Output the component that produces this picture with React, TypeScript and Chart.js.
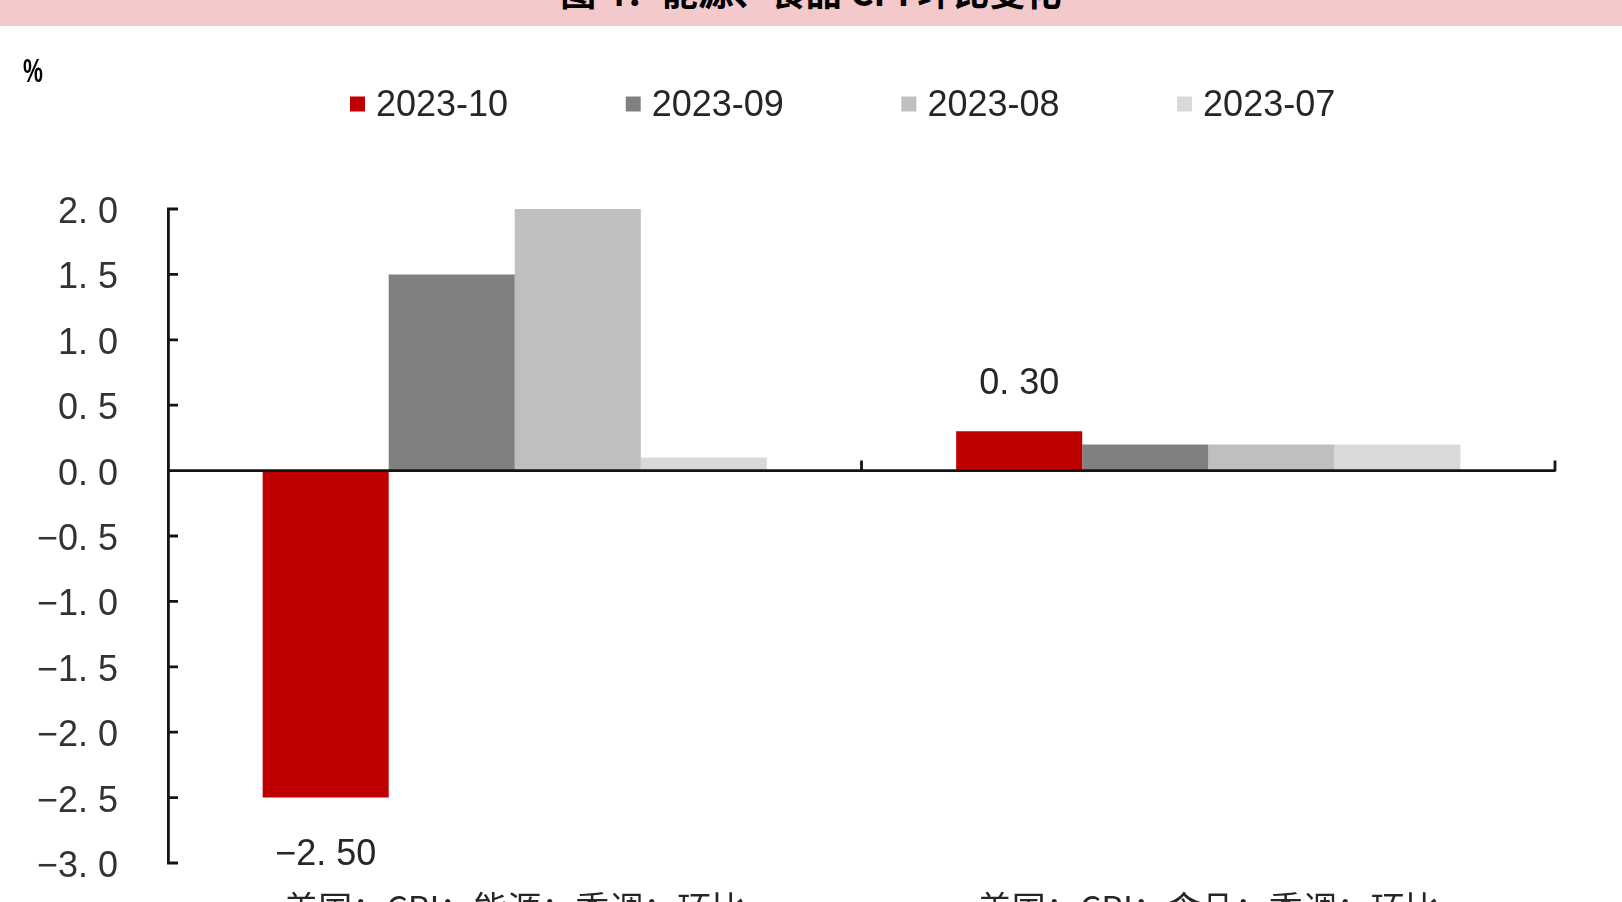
import React, { useEffect, useRef } from 'react';
import { Chart, registerables } from 'chart.js';

Chart.register(...registerables);

// ---- data ----
const categories = ['美国：CPI：能源：季调：环比', '美国：CPI：食品：季调：环比'];
const seriesNames = ['2023-10', '2023-09', '2023-08', '2023-07'];
const oct2023 = [-2.5, 0.3];
const sep2023 = [1.5, 0.2];
const aug2023 = [2.0, 0.2];
const jul2023 = [0.1, 0.2];
const seriesValues = [oct2023, sep2023, aug2023, jul2023];
const seriesColors = ['#C00000', '#808080', '#BFBFBF', '#D9D9D9'];
const yMin = -3.0;
const yMax = 2.0;
const yStep = 0.5;
const unitLabel = '%';
const titleText = '图 4：能源、食品 CPI 环比变化';

const LATIN = '"Liberation Sans", Arial, sans-serif';
const CJK = '"Noto Sans CJK SC", "Noto Sans", sans-serif';
const TEXT = '#262626';
const AXIS = '#141414';

const fmt = (v: number, d: number) =>
  v.toFixed(d).replace('.', '. ').replace('-', '\u2212');

const decorPlugin = {
  id: 'decor',
  afterDatasetsDraw(chart: any) {
    const { ctx, chartArea, scales } = chart;
    const xs = scales.x;
    const ys = scales.y;
    const y0 = ys.getPixelForValue(0);
    ctx.save();
    ctx.strokeStyle = AXIS;
    ctx.lineWidth = 2.8;
    ctx.beginPath();
    ctx.moveTo(chartArea.left, y0);
    ctx.lineTo(chartArea.right, y0);
    const n = chart.data.labels.length;
    for (let i = 1; i <= n; i++) {
      const bx = xs.left + (i * xs.width) / n;
      ctx.moveTo(bx, y0 + 1);
      ctx.lineTo(bx, y0 - 10);
    }
    ys.ticks.forEach((t: any) => {
      const py = ys.getPixelForValue(t.value);
      ctx.moveTo(chartArea.left - 1, py);
      ctx.lineTo(chartArea.left + 10, py);
    });
    ctx.stroke();

    // data labels for the first series
    const meta = chart.getDatasetMeta(0);
    const vals = chart.data.datasets[0].data;
    ctx.fillStyle = TEXT;
    ctx.font = `36px ${LATIN}`;
    ctx.textAlign = 'center';
    ctx.textBaseline = 'middle';
    meta.data.forEach((bar: any, i: number) => {
      const v = vals[i];
      const ty = v >= 0 ? bar.y - 47 : bar.y + 57;
      ctx.fillText(fmt(v, 2), bar.x, ty);
    });
    ctx.restore();
  },
  afterDraw(chart: any) {
    const { ctx } = chart;
    ctx.save();
    // legend
    const x0 = 350;
    const step = 275.7;
    const cy = 78;
    chart.data.datasets.forEach((ds: any, i: number) => {
      const lx = x0 + i * step;
      ctx.fillStyle = ds.backgroundColor;
      ctx.fillRect(lx, cy - 7.5, 15, 15);
      ctx.fillStyle = TEXT;
      ctx.font = `36px ${LATIN}`;
      ctx.textAlign = 'left';
      ctx.textBaseline = 'middle';
      ctx.fillText(ds.label, lx + 26, cy + 2);
    });
    // unit
    ctx.fillStyle = '#000';
    ctx.font = `900 36px ${LATIN}`;
    ctx.textAlign = 'center';
    ctx.textBaseline = 'middle';
    ctx.translate(33, 47);
    ctx.scale(0.62, 0.92);
    ctx.fillText(unitLabel, 0, 0);
    ctx.restore();
  },
};

export default function App() {
  const ref = useRef<HTMLCanvasElement>(null);

  useEffect(() => {
    if (!ref.current) return;
    const chart = new Chart(ref.current, {
      type: 'bar',
      data: {
        labels: categories,
        datasets: seriesNames.map((name, i) => ({
          label: name,
          data: seriesValues[i],
          backgroundColor: seriesColors[i],
          borderWidth: 0,
          barPercentage: 1.0,
          categoryPercentage: 0.727,
        })),
      },
      options: {
        responsive: false,
        animation: false,
        devicePixelRatio: 1,
        layout: { padding: { top: 183, right: 67, bottom: 3, left: 0 } },
        plugins: {
          legend: { display: false },
          tooltip: { enabled: false },
          title: { display: false },
        },
        scales: {
          x: {
            type: 'category',
            offset: true,
            grid: { display: false, drawTicks: false },
            border: { display: false },
            ticks: {
              autoSkip: false,
              maxRotation: 0,
              minRotation: 0,
              padding: 25,
              color: TEXT,
              font: { family: CJK, size: 34 },
            },
            afterFit: (s: any) => {
              s.height = 70;
            },
          },
          y: {
            min: yMin,
            max: yMax,
            grid: { display: false, drawTicks: false },
            border: { display: true, color: AXIS, width: 2.8 },
            ticks: {
              stepSize: yStep,
              padding: 50,
              labelOffset: 4,
              color: '#333333',
              font: { family: LATIN, size: 36 },
              callback: (v: any) => fmt(Number(v), 1),
            },
            afterFit: (s: any) => {
              s.width = 168;
            },
          },
        },
      },
      plugins: [decorPlugin],
    });
    return () => chart.destroy();
  }, []);

  return (
    <div
      style={{
        position: 'fixed',
        left: 0,
        top: 0,
        width: 1622,
        height: 902,
        overflow: 'hidden',
        background: '#ffffff',
      }}
    >
      <div
        style={{
          position: 'absolute',
          left: 0,
          top: 0,
          width: 1622,
          height: 26,
          background: '#F4C9CB',
          overflow: 'hidden',
        }}
      >
        <div
          style={{
            position: 'absolute',
            left: 0,
            top: -28,
            width: '100%',
            textAlign: 'center',
            fontFamily: CJK,
            fontSize: 36,
            fontWeight: 700,
            lineHeight: '36px',
            color: '#000',
          }}
        >
          {titleText}
        </div>
      </div>
      <canvas
        ref={ref}
        width={1622}
        height={910}
        style={{ position: 'absolute', left: 0, top: 26, width: 1622, height: 910 }}
      />
    </div>
  );
}
